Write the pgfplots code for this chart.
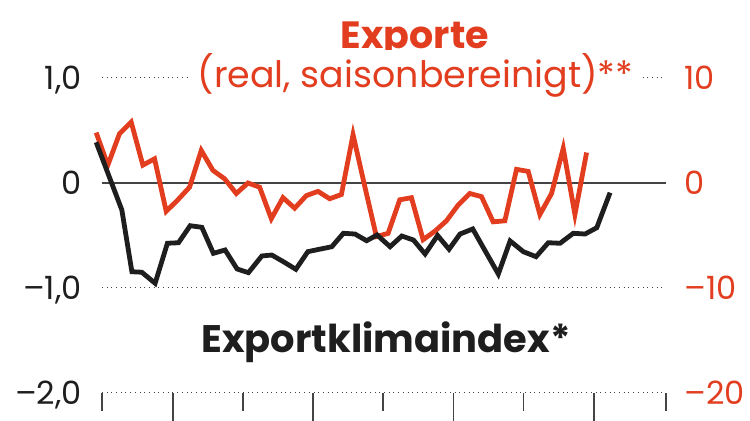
\documentclass[border=0pt]{standalone}
\usepackage{pgfplots}
\pgfplotsset{compat=1.18}
\usepackage{fontspec}
\setmainfont{Poppins}
\definecolor{expred}{HTML}{E23D1F}
\definecolor{klima}{HTML}{1E1E1E}
\definecolor{gridc}{HTML}{444444}
\begin{document}
\begin{tikzpicture}
\pgfplotsset{
  common/.style={
    scale only axis, width=282pt, height=157.5pt,
    xmin=0.5, xmax=48.8, clip=false,
    axis line style={draw=none},
    tick label style={font=\fontsize{16}{19}\selectfont},
  }
}
% left axis: Exportklimaindex
\begin{axis}[common,
  ymin=-2, ymax=1,
  xtick=\empty,
  ytick={-2,-1,1}, yticklabels={{–2,0},{–1,0},{1,0}},
  extra y ticks={0}, extra y tick labels={0},
  ymajorgrids,
  major grid style={draw=gridc, line width=0.5pt, dash pattern=on 0.5pt off 1.85pt},
  extra y tick style={major grid style={solid, draw=gridc, line width=0.6pt}},
  ytick style={draw=none},
  yticklabel style={anchor=base east, xshift=-10pt, yshift=-5.6pt, inner sep=0pt, text=klima},
]
\end{axis}
% right axis: Exporte
\begin{axis}[common,
  ymin=-20, ymax=10,
  xtick=\empty,
  ytick={-20,-10,0,10}, yticklabels={{–20},{–10},0,10},
  yticklabel pos=right,
  ytick style={draw=none},
  yticklabel style={anchor=base west, xshift=9pt, yshift=-5.6pt, inner sep=0pt, text=expred},
]
\addplot[expred, line width=2.4pt] coordinates {
(0,4.8)(1,1.7)(2,4.7)(3,5.8)(4,1.7)(5,2.3)(6,-2.7)(7,-1.6)(8,-0.4)(9,3.1)
(10,1.2)(11,0.4)(12,-1.0)(13,0.0)(14,-0.4)(15,-3.4)(16,-1.4)(17,-2.4)(18,-1.2)(19,-0.8)
(20,-1.5)(21,-1.1)(22,4.6)(23,-0.3)(24,-5.1)(25,-4.8)(26,-1.6)(27,-1.4)(28,-5.4)(29,-4.6)
(30,-3.6)(31,-2.1)(32,-1.0)(33,-1.3)(34,-3.7)(35,-3.6)(36,1.3)(37,1.1)(38,-3.0)(39,-1.0)
(40,3.3)(41,-3.0)(42,2.9)
};
\end{axis}
% black line and x ticks
\begin{axis}[common,
  ymin=-2, ymax=1,
  ytick=\empty,
  tick align=outside,
  xtick={0.5,12.57,24.56,36.6,48.8}, xticklabels={},
  extra x ticks={6.58,18.57,30.61,42.63}, extra x tick labels={},
  xtick pos=bottom,
  major tick length=9pt,
  xtick style={draw=gridc, line width=0.6pt},
  extra x tick style={major tick length=16pt},
]
\addplot[klima, line width=2.4pt] coordinates {
(0,0.388)(2.20,-0.257)(3.06,-0.845)(3.91,-0.850)(5.05,-0.955)(6.10,-0.574)(7.05,-0.569)
(8.05,-0.407)(9.05,-0.422)(10.04,-0.670)(11.04,-0.638)(12.07,-0.819)(13.04,-0.854)
(14.19,-0.695)(15.04,-0.686)(16.04,-0.750)(17.10,-0.822)(18.13,-0.654)(19.12,-0.631)
(20.18,-0.607)(21.17,-0.479)(22.17,-0.486)(23.16,-0.550)(24.06,-0.495)(25.17,-0.607)
(26.17,-0.505)(27.17,-0.543)(28.17,-0.676)(29.24,-0.500)(30.22,-0.631)(31.16,-0.486)
(32.25,-0.438)(34.44,-0.867)(35.45,-0.552)(36.58,-0.654)(37.67,-0.702)(38.72,-0.569)
(39.73,-0.574)(40.86,-0.479)(41.87,-0.486)(42.87,-0.426)(44.01,-0.092)
};
\end{axis}
\node[font=\fontsize{19}{22}\selectfont\bfseries, text=expred, anchor=base, inner sep=0pt] at (156.5pt,172pt) {Exporte};
\node[font=\fontsize{18.2}{21}\selectfont, text=expred, fill=white, anchor=base, inner xsep=4.5pt, inner ysep=2pt] at (156.75pt,152.5pt) {(real, saisonbereinigt)**};
\node[font=\fontsize{19.2}{22}\selectfont\bfseries, text=klima, anchor=base, inner sep=0pt] at (142pt,20.15pt) {Exportklimaindex*};
\pgfresetboundingbox
\useasboundingbox (-51pt,-14pt) rectangle (324pt,196.5pt);
\end{tikzpicture}
\end{document}
